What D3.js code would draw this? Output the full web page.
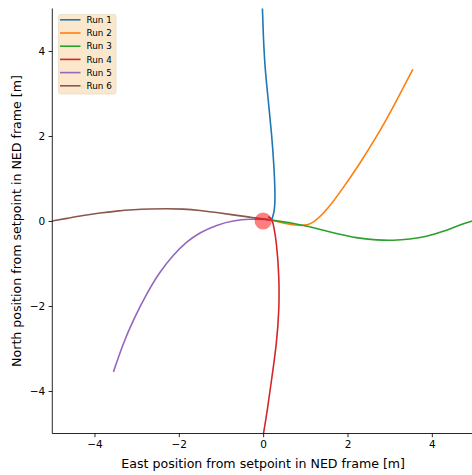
<!DOCTYPE html>
<html>
<head>
<meta charset="utf-8">
<script src="https://cdn.jsdelivr.net/npm/d3@7"></script>
<style>
  html, body { margin: 0; padding: 0; background: #fff; }
  svg { display: block; font-family: "DejaVu Sans", sans-serif; }
</style>
</head>
<body>
<svg id="chart" width="472" height="475"></svg>
<script>
// Trajectories of six runs, east/north offsets from the setpoint [m]
const runNames = ["Run 1", "Run 2", "Run 3", "Run 4", "Run 5", "Run 6"];
const runColors = ["#1f77b4", "#ff7f0e", "#2ca02c", "#d62728", "#9467bd", "#8c564b"];

const run1East  = [0.2, 0.26, 0.29, 0.26, 0.2, 0.12, 0.04, 0.0, -0.02];
const run1North = [0.02, 0.19, 0.49, 1.28, 2.07, 2.85, 3.63, 4.43, 5.1];

const run2East  = [0.2, 0.55, 0.95, 1.18, 1.5, 1.9, 2.29, 2.69, 3.08, 3.55];
const run2North = [0.02, -0.07, -0.12, -0.06, 0.24, 0.78, 1.35, 1.98, 2.67, 3.57];

const run3East  = [0.2, 0.71, 1.1, 1.5, 1.9, 2.29, 2.69, 3.08, 3.48, 3.87, 4.27, 4.66, 5.0];
const run3North = [0.02, -0.05, -0.13, -0.24, -0.33, -0.41, -0.45, -0.46, -0.43, -0.37, -0.25, -0.09, 0.01];

const run4East  = [0.12, 0.2, 0.25, 0.32, 0.38, 0.38, 0.32, 0.21, 0.1, 0.0];
const run4North = [0.1, 0.06, -0.1, -0.52, -1.31, -2.09, -2.88, -3.66, -4.45, -5.05];

const run5East  = [-3.55, -3.32, -3.08, -2.76, -2.45, -2.13, -1.82, -1.5, -1.1, -0.71, -0.32, 0.08, 0.2];
const run5North = [-3.55, -2.88, -2.33, -1.7, -1.19, -0.8, -0.49, -0.27, -0.09, 0.01, 0.05, 0.04, 0.02];

const run6East  = [-5.0, -4.66, -4.27, -3.87, -3.47, -3.08, -2.68, -2.29, -1.9, -1.5, -1.1, -0.71, -0.32, 0.08, 0.2];
const run6North = [0.0, 0.06, 0.13, 0.19, 0.235, 0.265, 0.283, 0.29, 0.283, 0.25, 0.2, 0.145, 0.09, 0.04, 0.02];

const xTicks = [-4, -2, 0, 2, 4];
const yTicks = [-4, -2, 0, 2, 4];
const setpoint = [0, 0];

const runs = [
  [run1East, run1North], [run2East, run2North], [run3East, run3North],
  [run4East, run4North], [run5East, run5North], [run6East, run6North]
].map(([e, n], i) => ({ name: runNames[i], color: runColors[i], pts: e.map((v, j) => [v, n[j]]) }));

const svg = d3.select("#chart");
const plotLeft = 52.3, plotRight = 474, plotTop = 8.5, plotBottom = 433.5;

const x = d3.scaleLinear().domain([-5, 5]).range([plotLeft, plotRight]);
const y = d3.scaleLinear().domain([-5, 5]).range([plotBottom, plotTop]);

svg.append("defs").append("clipPath").attr("id", "plotClip")
  .append("rect").attr("x", plotLeft).attr("y", plotTop)
  .attr("width", plotRight - plotLeft).attr("height", plotBottom - plotTop);

const plot = svg.append("g").attr("clip-path", "url(#plotClip)");

// Smooth B-spline through the sampled positions
const line = d3.line().x(d => x(d[0])).y(d => y(d[1])).curve(d3.curveBasis);

plot.selectAll("path.run").data(runs).join("path")
  .attr("class", "run")
  .attr("d", d => line(d.pts))
  .attr("fill", "none")
  .attr("stroke", d => d.color)
  .attr("stroke-width", 1.6)
  .attr("stroke-linejoin", "round")
  .attr("stroke-linecap", "butt");

plot.append("circle")
  .attr("cx", x(setpoint[0])).attr("cy", y(setpoint[1]))
  .attr("r", 8.6)
  .attr("fill", "red").attr("fill-opacity", 0.5);

// Axes
const fmt = d => d < 0 ? "\u2212" + Math.abs(d) : String(d);
const xAxis = svg.append("g").attr("transform", `translate(0,${plotBottom})`)
  .call(d3.axisBottom(x).tickValues(xTicks).tickSize(3.7).tickPadding(3.5).tickFormat(fmt));
const yAxis = svg.append("g").attr("transform", `translate(${plotLeft},0)`)
  .call(d3.axisLeft(y).tickValues(yTicks).tickSize(3.7).tickPadding(3.5).tickFormat(fmt));

[xAxis, yAxis].forEach(a => {
  a.selectAll("text").attr("font-family", "DejaVu Sans").attr("font-size", 10.5).attr("fill", "#000");
  a.selectAll("line").attr("stroke", "#000").attr("stroke-width", 0.85);
  a.select(".domain").attr("stroke", "#000").attr("stroke-width", 0.85);
});
xAxis.select(".domain").attr("d", `M${plotLeft},0H${plotRight}`);
yAxis.select(".domain").attr("d", `M0,${plotBottom}V${plotTop}`);

svg.append("text")
  .attr("x", (plotLeft + plotRight) / 2).attr("y", 468)
  .attr("text-anchor", "middle").attr("font-size", 12.6).attr("fill", "#000")
  .text("East position from setpoint in NED frame [m]");

svg.append("text")
  .attr("transform", `translate(20.5,${(plotTop + plotBottom) / 2}) rotate(-90)`)
  .attr("text-anchor", "middle").attr("font-size", 12.6).attr("fill", "#000")
  .text("North position from setpoint in NED frame [m]");

// Legend
const lg = svg.append("g").attr("transform", "translate(58.5,14.5)");
lg.append("rect").attr("width", 57.5).attr("height", 79.5).attr("rx", 2)
  .attr("fill", "#fbe8cc").attr("stroke", "#eadcc6").attr("stroke-width", 0.8);
const rows = lg.selectAll("g.row").data(runs).join("g").attr("class", "row")
  .attr("transform", (d, i) => `translate(0,${5.3 + i * 13.2})`);
rows.append("line").attr("x1", 1.5).attr("x2", 22).attr("y1", 0).attr("y2", 0)
  .attr("stroke", d => d.color).attr("stroke-width", 1.6);
rows.append("text").attr("x", 28).attr("y", 3.2).attr("font-size", 8.8).attr("fill", "#000")
  .text(d => d.name);
</script>
</body>
</html>
